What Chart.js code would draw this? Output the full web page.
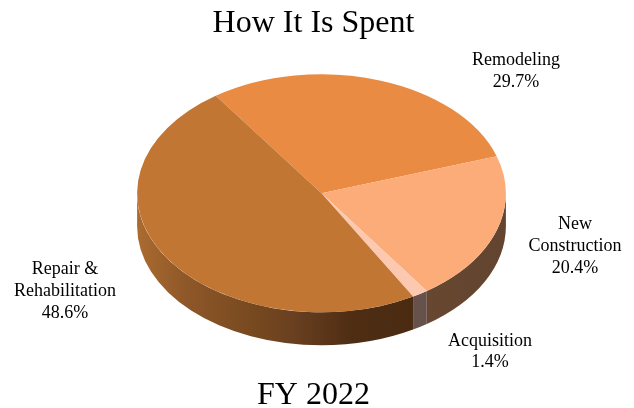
<!DOCTYPE html>
<html>
<head>
<meta charset="utf-8">
<style>html,body{margin:0;padding:0;background:#fff}canvas{display:block}</style>
<script src="https://cdn.jsdelivr.net/npm/chart.js@4"></script>
</head>
<body>
<canvas id="c" width="634" height="408"></canvas>
<script>
const chartTitle = 'How It Is Spent';
const chartSubtitle = 'FY 2022';
const categories = ['Remodeling', 'New Construction', 'Acquisition', 'Repair & Rehabilitation'];
const values = [29.7, 20.4, 1.4, 48.6];
const labelLines = [['Remodeling'], ['New', 'Construction'], ['Acquisition'], ['Repair &', 'Rehabilitation']];
const topColors = ['#E98B42', '#FBAC78', '#FCC8B0', '#C27633'];
const wallColors = [['#8A5426', '#8A5426'], ['#67472F', '#624430'], ['#67524B', '#67524B'], ['#AB6B30', '#8E5729', '#77491F', '#6A4020', '#4E2D13', '#4A2B12']];
const wallStops = [[0, 1], [0, 1], [0, 1], [0, 0.18, 0.42, 0.56, 0.78, 1]];

const FONT = '"Liberation Serif", "Times New Roman", serif';
const pie3d = { cx: 321.5, cy: 193.3, rx: 184.4, ry: 119, depth: 33, rotation: -35 };
const labelPos = [[516, 60.5], [575, 224.5], [490, 341], [65, 269.5]];
const labelStep = 21.7;

const pie3dPlugin = {
  id: 'pie3d',
  beforeDatasetsDraw(chart) {
    const ctx = chart.ctx;
    const { cx, cy, rx, ry, depth } = pie3d;
    const arcs = chart.getDatasetMeta(0).data;
    const TAU = Math.PI * 2;
    arcs.forEach((arc, i) => {
      for (let k = -1; k <= 1; k++) {
        const a0 = Math.max(arc.startAngle, k * TAU);
        const a1 = Math.min(arc.endAngle, k * TAU + Math.PI);
        if (a1 <= a0) continue;
        const g = ctx.createLinearGradient(cx + rx * Math.cos(a1), 0, cx + rx * Math.cos(a0), 0);
        wallColors[i].forEach((s, j) => g.addColorStop(wallStops[i][j], s));
        ctx.beginPath();
        ctx.ellipse(cx, cy, rx, ry, 0, a0, a1, false);
        ctx.ellipse(cx, cy + depth, rx, ry, 0, a1, a0, true);
        ctx.closePath();
        ctx.fillStyle = g;
        ctx.fill();
      }
    });
    const r = arcs[0].outerRadius;
    ctx.save();
    ctx.translate(cx, cy);
    ctx.scale(rx / r, ry / r);
    ctx.translate(-arcs[0].x, -arcs[0].y);
  },
  afterDatasetsDraw(chart) {
    const ctx = chart.ctx;
    ctx.restore();
    ctx.save();
    ctx.font = '18px ' + FONT;
    ctx.fillStyle = '#000';
    ctx.textAlign = 'center';
    ctx.textBaseline = 'middle';
    categories.forEach((c, i) => {
      const lines = labelLines[i].concat([values[i].toFixed(1) + '%']);
      lines.forEach((t, j) => ctx.fillText(t, labelPos[i][0], labelPos[i][1] + j * labelStep));
    });
    ctx.restore();
  }
};

new Chart(document.getElementById('c'), {
  type: 'pie',
  data: {
    labels: categories,
    datasets: [{ data: values, backgroundColor: topColors, borderWidth: 0, hoverOffset: 0 }]
  },
  options: {
    responsive: false,
    animation: false,
    rotation: pie3d.rotation,
    events: [],
    layout: { padding: { right: 7 } },
    plugins: {
      legend: { display: false },
      tooltip: { enabled: false },
      title: { display: true, fullSize: false, text: chartTitle, color: '#000', font: { family: FONT, size: 32, weight: 'normal', lineHeight: 1 }, padding: { top: 8, bottom: 6 } },
      subtitle: { display: true, fullSize: false, position: 'bottom', text: chartSubtitle, color: '#000', font: { family: FONT, size: 32, weight: 'normal', lineHeight: 0.8 }, padding: { top: 0, bottom: 0 } }
    }
  },
  plugins: [pie3dPlugin]
});
</script>
</body>
</html>
